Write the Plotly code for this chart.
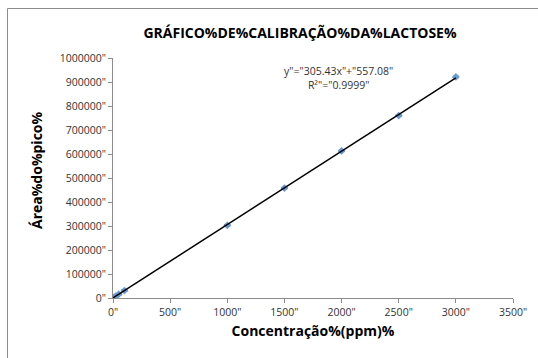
import plotly.graph_objects as go

# Calibration standards: concentration (ppm) vs peak area
conc = [0, 10, 25, 50, 100, 1000, 1500, 2000, 2500, 3000]
area = [0, 3500, 8200, 15800, 31000, 303000, 458000, 613000, 760000, 921000]

slope = 305.43
intercept = 557.08
fit_x = [0, 3000]
fit_y = [slope * v + intercept for v in fit_x]

x_ticks = [0, 500, 1000, 1500, 2000, 2500, 3000, 3500]
y_ticks = [0, 100000, 200000, 300000, 400000, 500000, 600000, 700000, 800000, 900000, 1000000]

font_family = "Open Sans, Liberation Sans, sans-serif"

# plot area in pixels
L, R, T, B = 113, 513, 58, 298
W, H = R - L, B - T


def px_x(p):
    return (p - L) / W


def px_y(p):
    return (B - p) / H


fig = go.Figure()
fig.add_trace(go.Scatter(
    x=conc, y=area, mode="markers",
    marker=dict(symbol="diamond", size=6, color="#6A9AD4"),
    error_y=dict(type="constant", value=3000, color="#1F3F6F", thickness=1, width=3),
    showlegend=False,
))
fig.add_trace(go.Scatter(
    x=fit_x, y=fit_y, mode="lines",
    line=dict(color="black", width=1.5),
    showlegend=False,
))

fig.update_layout(
    width=538, height=358,
    margin=dict(l=L, r=538 - R, t=T, b=358 - B),
    paper_bgcolor="white", plot_bgcolor="white",
    font=dict(family=font_family, size=10.5, color="#333333"),
    title=dict(text="<b>GRÁFICO%DE%CALIBRAÇÃO%DA%LACTOSE%</b>",
               x=300 / 538, xanchor="center", y=1 - 33 / 358, yanchor="middle",
               font=dict(size=14, color="black")),
    xaxis=dict(
        range=[0, 3500], tickvals=x_ticks, ticktext=[f'{v}"' for v in x_ticks],
        showgrid=False, zeroline=False, showline=True, linecolor="#8c8c8c",
        ticks="outside", ticklen=4, tickcolor="#8c8c8c",
        title=dict(text="<b>Concentração%(ppm)%</b>", font=dict(size=14, color="black"), standoff=8),
    ),
    yaxis=dict(
        range=[0, 1000000], tickvals=y_ticks, ticktext=[f'{v}"' for v in y_ticks],
        showgrid=False, zeroline=False, showline=True, linecolor="#8c8c8c",
        ticks="outside", ticklen=4, tickcolor="#8c8c8c",
    ),
    annotations=[
        dict(text='y"="305.43x"+"557.08"<br>R²"="0.9999"',
             x=px_x(338), y=px_y(62), xref="paper", yref="paper",
             xanchor="center", yanchor="top",
             showarrow=False, font=dict(size=10.5, color="#333333"), align="center"),
        dict(text="<b>Área%do%pico%</b>", textangle=-90,
             x=px_x(36), y=px_y(171), xref="paper", yref="paper",
             xanchor="center", yanchor="middle",
             showarrow=False, font=dict(size=14, color="black")),
    ],
    shapes=[
        dict(type="line", xref="paper", yref="paper",
             x0=px_x(7.5), x1=px_x(7.5), y0=px_y(400), y1=px_y(8.5),
             line=dict(color="#8c8c8c", width=1)),
        dict(type="line", xref="paper", yref="paper",
             x0=px_x(7.5), x1=px_x(600), y0=px_y(8.5), y1=px_y(8.5),
             line=dict(color="#8c8c8c", width=1)),
    ],
)

fig.write_html("out.html")
